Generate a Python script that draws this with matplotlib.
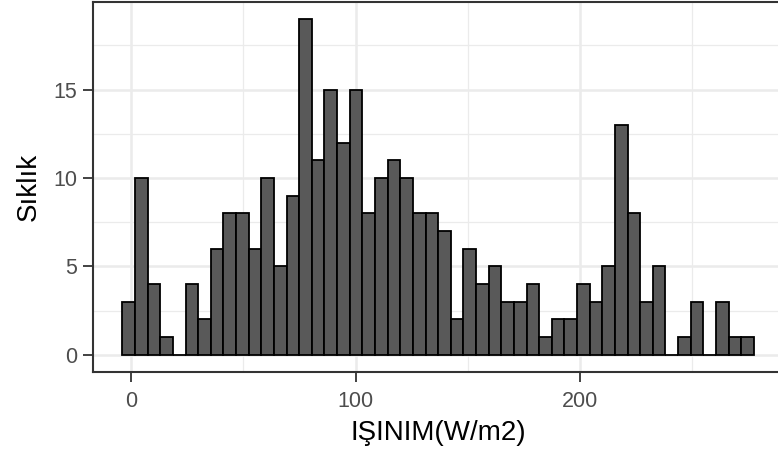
import numpy as np
import matplotlib
matplotlib.use('Agg')
import matplotlib.pyplot as plt
from matplotlib.ticker import MultipleLocator

# histogram counts (50 bins)
counts = [3, 10, 4, 1, 0, 4, 2, 6, 8, 8,
          6, 10, 5, 9, 19, 11, 15, 12, 15, 8,
          10, 11, 10, 8, 8, 7, 2, 6, 4, 5,
          3, 3, 4, 1, 2, 2, 4, 3, 5, 13,
          8, 3, 5, 0, 1, 3, 0, 3, 1, 1]
bin_start = -3.87
bin_width = 5.627
x_ticks = [0, 100, 200]
y_ticks = [0, 5, 10, 15]
x_label = 'IŞINIM(W/m2)'
y_label = 'Sıklık'

plt.rcParams['font.family'] = ['Liberation Sans', 'DejaVu Sans']

W, H = 778, 459
fig = plt.figure(figsize=(W / 100, H / 100), dpi=100)
left, right, top, bottom = 92.5, 783.8, 2.0, 371.5
ax = fig.add_axes([left / W, 1 - bottom / H, (right - left) / W, (bottom - top) / H])

edges = bin_start + bin_width * np.arange(len(counts) + 1)
ax.bar(edges[:-1], counts, width=bin_width, align='edge',
       color='#595959', edgecolor='black', linewidth=1.3, zorder=3)

ax.set_xlim(-17.2, 290.8)
ax.set_ylim(-0.95, 19.95)

ax.xaxis.set_minor_locator(MultipleLocator(50))
ax.yaxis.set_minor_locator(MultipleLocator(2.5))
ax.set_xticks(x_ticks)
ax.set_yticks(y_ticks)

ax.grid(which='major', color='#EBEBEB', linewidth=1.8, zorder=0)
ax.grid(which='minor', color='#EBEBEB', linewidth=0.9, zorder=0)
ax.set_axisbelow(True)

for s in ax.spines.values():
    s.set_color('#333333')
    s.set_linewidth(1.5)

ax.tick_params(which='major', length=7, width=1.3, color='#333333',
               labelcolor='#4D4D4D', labelsize=15.5)
ax.tick_params(axis='x', which='major', pad=7)
ax.tick_params(axis='y', which='major', pad=4)
ax.tick_params(which='minor', length=0)

ax.set_xlabel(x_label, fontsize=20, color='black', labelpad=6)
ax.set_ylabel(y_label, fontsize=20, color='black', labelpad=8)

fig.savefig('out.png', dpi=100)
